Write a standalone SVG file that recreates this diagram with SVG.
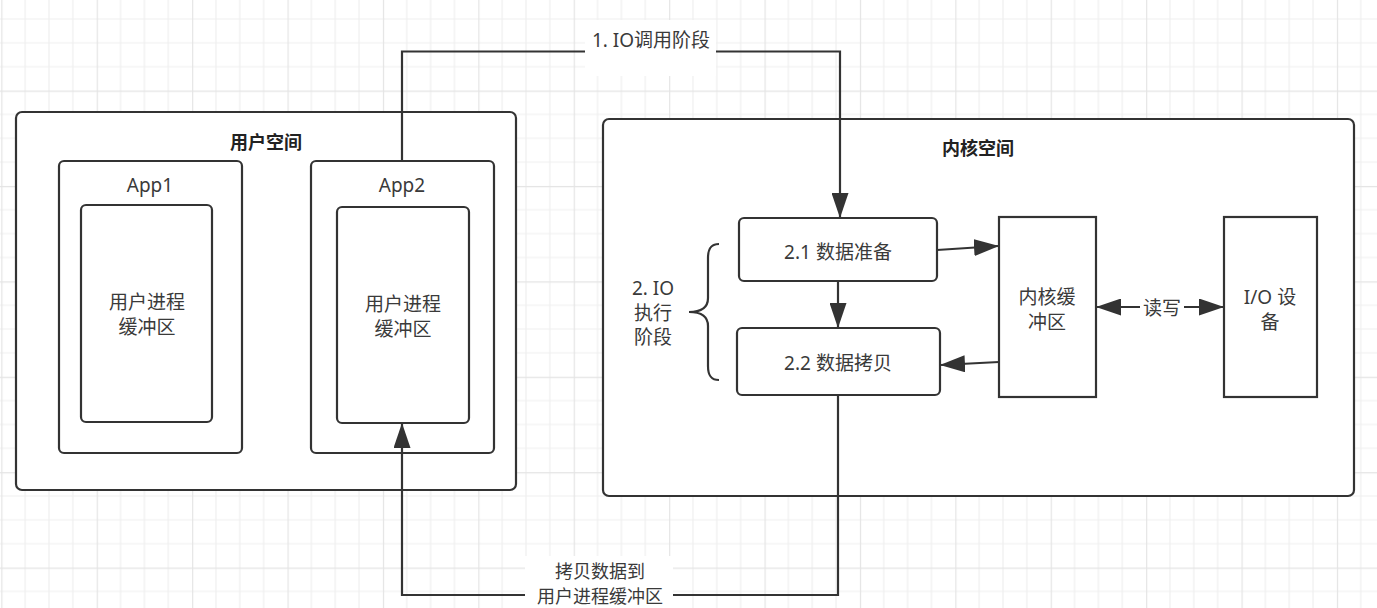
<svg xmlns="http://www.w3.org/2000/svg" width="1377" height="608" viewBox="0 0 1377 608">
<style>
.box{fill:#fff;stroke:#333;stroke-width:2.2}
.ln{fill:none;stroke:#333;stroke-width:2.2}
text{font-family:"Noto Sans","Noto Sans CJK SC",sans-serif;font-size:19px;fill:#3a3a3a;text-anchor:middle;dominant-baseline:central}
.t{font-weight:bold;font-size:18px;fill:#222}
.s{font-size:18px}
.bg{fill:#fff}
</style>
<defs>
<pattern id="grid" patternUnits="userSpaceOnUse" x="1.3" y="-4.85" width="95.4" height="95.4">
<path d="M23.85,0V95.4M47.7,0V95.4M71.55,0V95.4M0,23.85H95.4M0,47.7H95.4M0,71.55H95.4" stroke="#efefef" stroke-width="1.2" fill="none"/>
<path d="M0.5,0V95.4M0,0.5H95.4" stroke="#e4e4e4" stroke-width="1.4" fill="none"/>
</pattern>
<marker id="arr" markerUnits="userSpaceOnUse" markerWidth="25" markerHeight="17" refX="24" refY="8.5" orient="auto-start-reverse">
<path d="M0,0 L25,8.5 L0,17 z" fill="#333"/>
</marker>
</defs>
<rect width="1377" height="608" fill="#fff"/>
<rect width="1377" height="608" fill="url(#grid)"/>

<g id="user-space">
<rect class="box" x="16" y="112" width="500" height="378" rx="6"/>
<text class="t" x="266" y="142">用户空间</text>
</g>
<g id="app1">
<rect class="box" x="59" y="161" width="183" height="292" rx="5"/>
<text x="150" y="185">App1</text>
</g>
<g id="app1-buffer">
<rect class="box" x="81" y="205" width="131" height="217" rx="5"/>
<text x="147" y="302">用户进程</text>
<text x="147" y="327">缓冲区</text>
</g>
<g id="app2">
<rect class="box" x="311" y="161" width="183" height="292" rx="5"/>
<text x="402" y="185">App2</text>
</g>
<g id="app2-buffer">
<rect class="box" x="337" y="207" width="132" height="216" rx="5"/>
<text x="403" y="304">用户进程</text>
<text x="403" y="329">缓冲区</text>
</g>
<g id="kernel-space">
<rect class="box" x="603" y="119" width="751" height="377" rx="6"/>
<text class="t" x="978" y="148">内核空间</text>
</g>
<g id="data-prepare">
<rect class="box" x="739" y="218" width="198" height="63" rx="5"/>
<text x="838" y="252">2.1 数据准备</text>
</g>
<g id="data-copy">
<rect class="box" x="737" y="328" width="203" height="67" rx="5"/>
<text x="838" y="363">2.2 数据拷贝</text>
</g>
<g id="kernel-buffer">
<rect class="box" x="999" y="217" width="97" height="180"/>
<text x="1047" y="297">内核缓</text>
<text x="1047" y="322">冲区</text>
</g>
<g id="io-device">
<rect class="box" x="1224" y="217" width="93" height="180"/>
<text x="1270" y="297">I/O 设</text>
<text x="1270" y="322">备</text>
</g>
<g id="exec-phase">
<path class="ln" d="M719,244 C710,244 708,250 708,258 L708,298 C708,308 700,312 689,312 C700,312 708,316 708,326 L708,366 C708,374 710,380 719,380"/>
<text x="653" y="288">2. IO</text>
<text x="653" y="313">执行</text>
<text x="653" y="337">阶段</text>
</g>

<g id="connectors">
<path class="ln" d="M402,161 V51.5 H840 V217" marker-end="url(#arr)"/>
<rect class="bg" x="585" y="20" width="131" height="56"/>
<text x="651" y="40">1. IO调用阶段</text>
<path class="ln" d="M838,281 V327" marker-end="url(#arr)"/>
<path class="ln" d="M937,250 L998,246" marker-end="url(#arr)"/>
<path class="ln" d="M999,362 L941,365" marker-end="url(#arr)"/>
<path class="ln" d="M1097,307 H1223" marker-start="url(#arr)" marker-end="url(#arr)"/>
<rect class="bg" x="1140" y="296" width="44" height="24"/>
<text x="1162" y="308">读写</text>
<path class="ln" d="M838,395 V595 H402 V424" marker-end="url(#arr)"/>
<rect class="bg" x="525" y="556" width="148" height="52"/>
<text class="s" x="600" y="571">拷贝数据到</text>
<text class="s" x="600" y="596">用户进程缓冲区</text>
</g>
</svg>
